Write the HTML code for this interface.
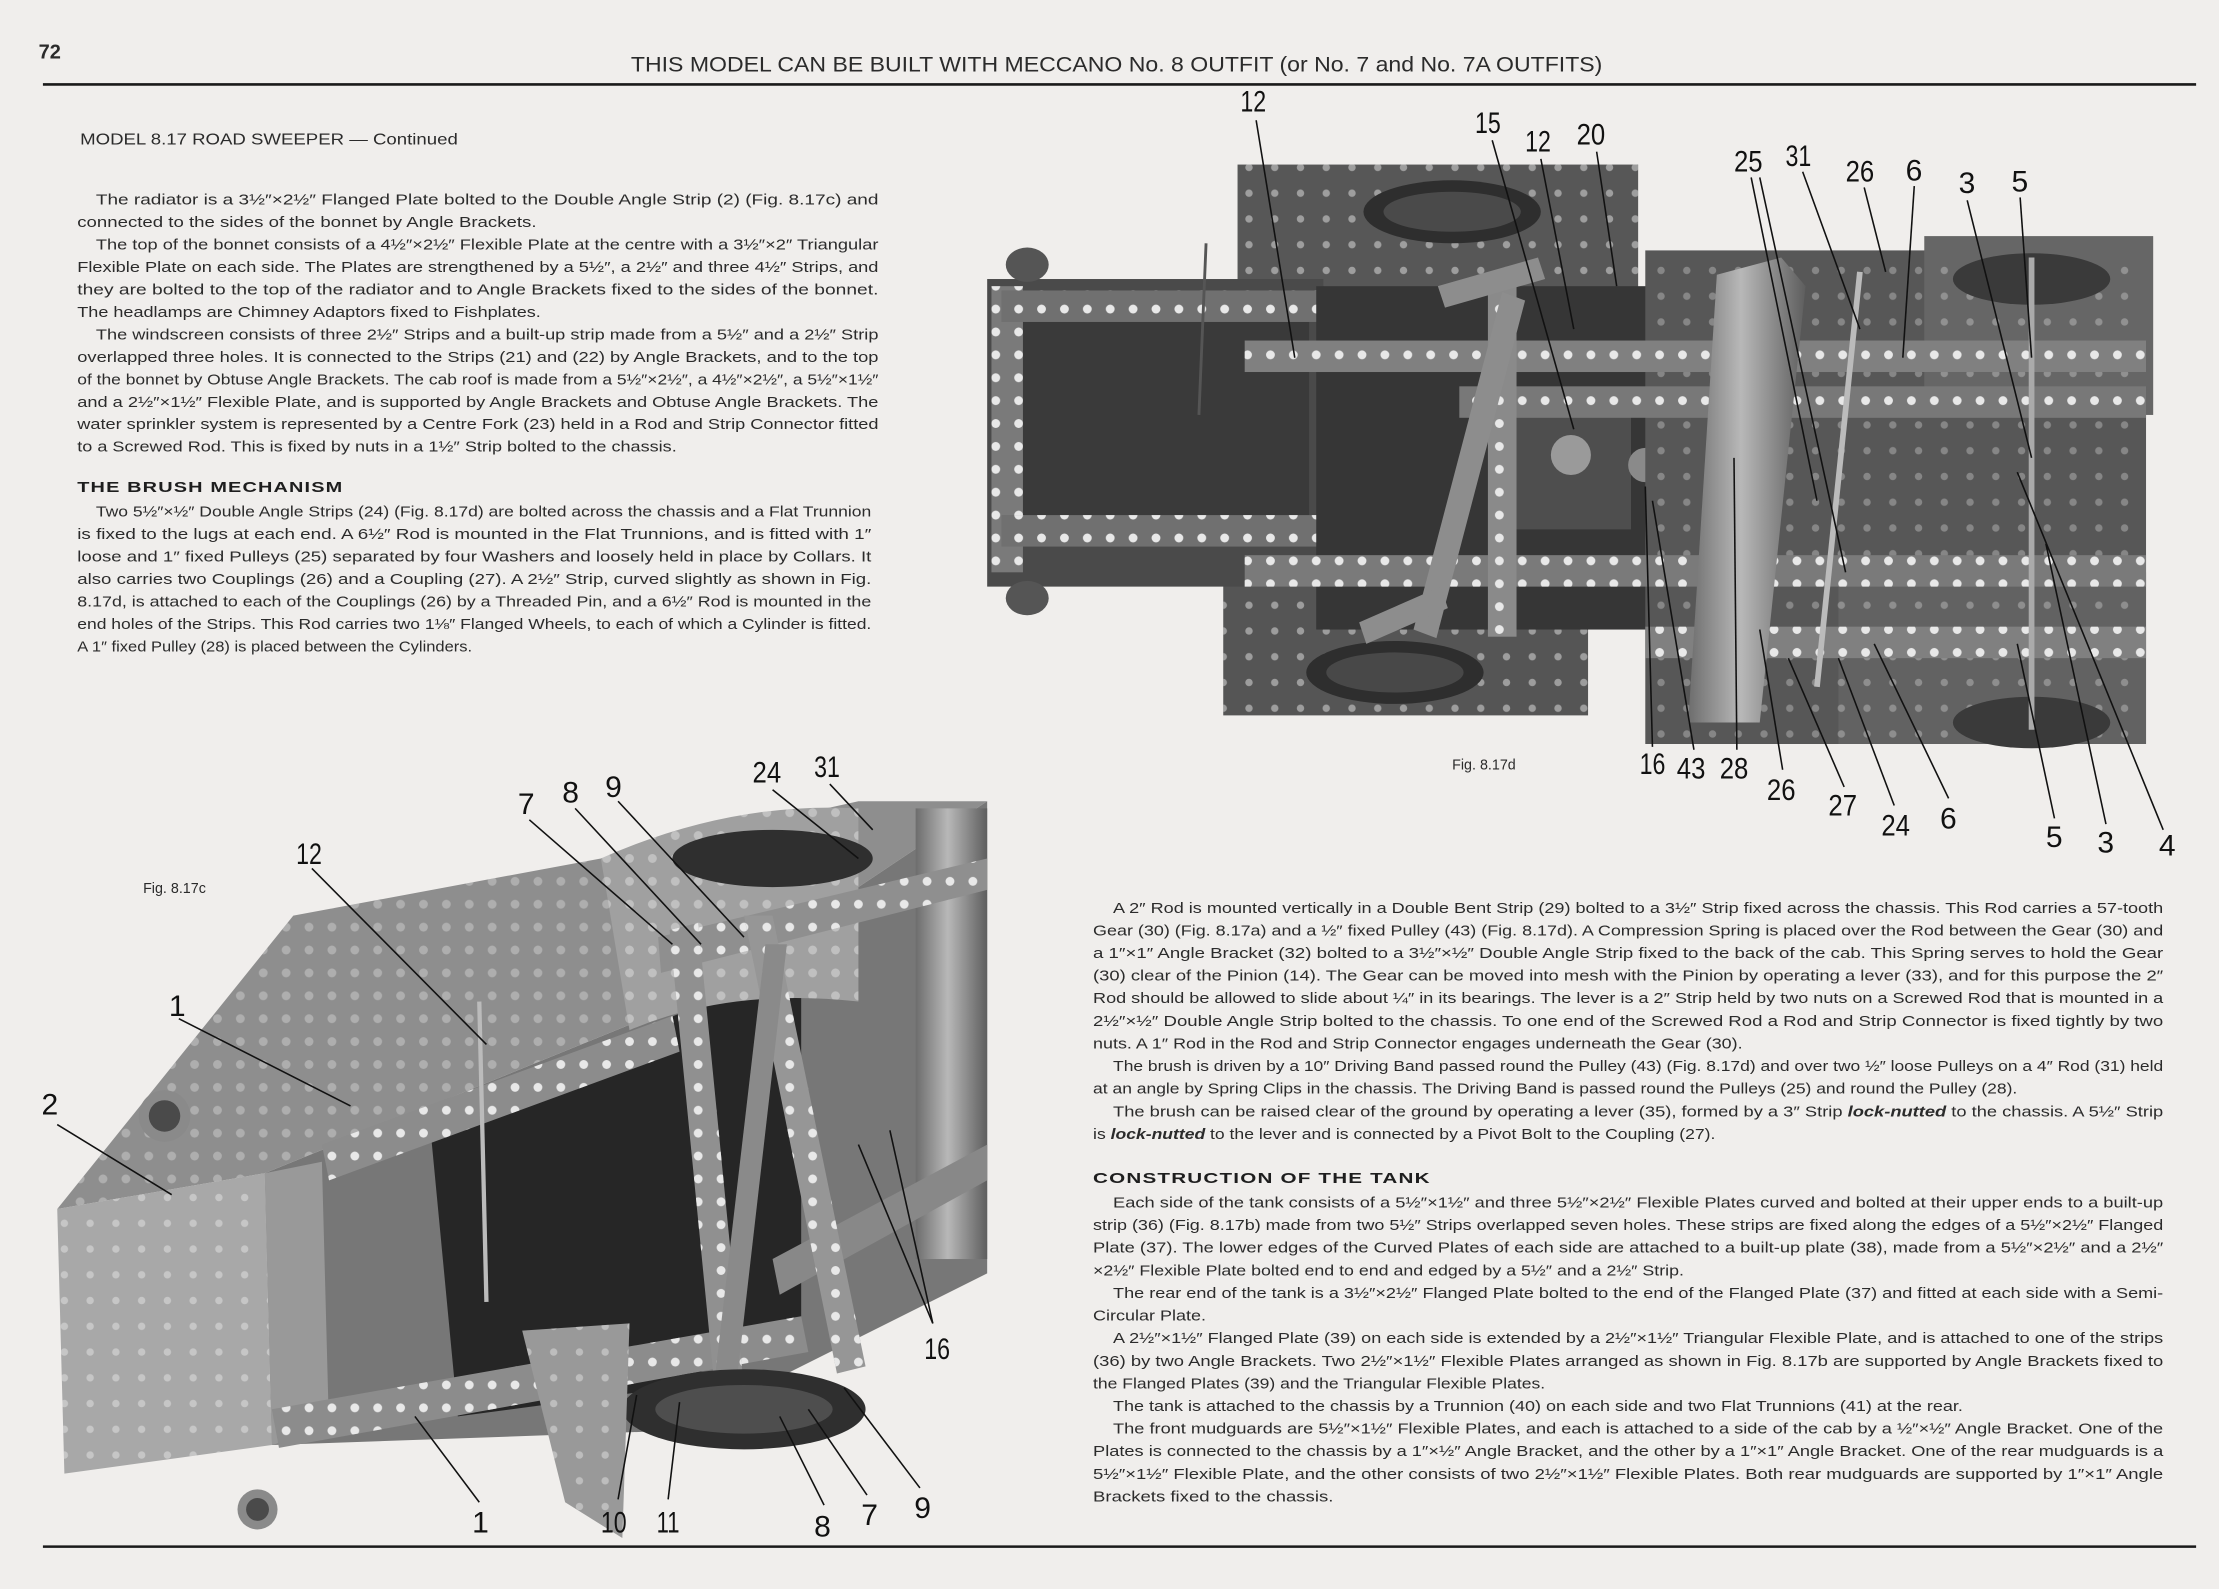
<!DOCTYPE html>
<html><head><meta charset="utf-8"><style>
html,body{margin:0;padding:0;background:#f0eeec;}
svg{display:block}
.t{font-family:"Liberation Sans",sans-serif;font-size:10.4px;fill:#2b2b2b}
.h{font-family:"Liberation Sans",sans-serif;font-weight:bold;font-size:10.5px;fill:#1e1e1e;letter-spacing:0.6px}
.lb{font-family:"Liberation Sans Narrow","Liberation Sans",sans-serif;font-size:21px;fill:#111}
.ld{stroke:#111;stroke-width:1.1;fill:none}
</style></head><body>
<svg width="2219" height="1589" viewBox="0 0 1551 1110.6" xmlns="http://www.w3.org/2000/svg">
<defs>
<pattern id="holes" width="16" height="16" patternUnits="userSpaceOnUse"><circle cx="8" cy="8" r="3.1" fill="#e8e8e8"/></pattern>
<pattern id="holesd" width="18" height="18" patternUnits="userSpaceOnUse"><circle cx="9" cy="9" r="2.6" fill="#f4f4f4"/></pattern>
<linearGradient id="cyl" x1="0" x2="1"><stop offset="0" stop-color="#6d6d6d"/><stop offset=".45" stop-color="#b8b8b8"/><stop offset="1" stop-color="#5e5e5e"/></linearGradient>
</defs>
<rect width="1551" height="1111" fill="#f0eeec"/>
<!-- header -->
<text x="27" y="41" class="t" style="font-size:14px;font-weight:bold">72</text>
<text x="441" y="50" class="t" style="font-size:15px" textLength="679" lengthAdjust="spacingAndGlyphs">THIS MODEL CAN BE BUILT WITH MECCANO No. 8 OUTFIT (or No. 7 and No. 7A OUTFITS)</text>
<line x1="30" y1="59" x2="1535" y2="59" stroke="#1a1a1a" stroke-width="1.8"/>
<line x1="30" y1="1081" x2="1535" y2="1081" stroke="#1a1a1a" stroke-width="1.8"/>
<text x="56" y="101" class="t" style="font-size:11px" textLength="264" lengthAdjust="spacingAndGlyphs">MODEL 8.17  ROAD SWEEPER — Continued</text>

<!-- left text -->
<g class="t">
<text x="67" y="143" textLength="547" lengthAdjust="spacingAndGlyphs">The radiator is a 3½″×2½″ Flanged Plate bolted to the Double Angle Strip (2) (Fig. 8.17c) and</text>
<text x="54" y="158.7" textLength="321" lengthAdjust="spacingAndGlyphs">connected to the sides of the bonnet by Angle Brackets.</text>
<text x="67" y="174.4" textLength="547" lengthAdjust="spacingAndGlyphs">The top of the bonnet consists of a 4½″×2½″ Flexible Plate at the centre with a 3½″×2″ Triangular</text>
<text x="54" y="190.1" textLength="560" lengthAdjust="spacingAndGlyphs">Flexible Plate on each side. The Plates are strengthened by a 5½″, a 2½″ and three 4½″ Strips, and</text>
<text x="54" y="205.8" textLength="560" lengthAdjust="spacingAndGlyphs">they are bolted to the top of the radiator and to Angle Brackets fixed to the sides of the bonnet.</text>
<text x="54" y="221.5" textLength="324" lengthAdjust="spacingAndGlyphs">The headlamps are Chimney Adaptors fixed to Fishplates.</text>
<text x="67" y="237.2" textLength="547" lengthAdjust="spacingAndGlyphs">The windscreen consists of three 2½″ Strips and a built-up strip made from a 5½″ and a 2½″ Strip</text>
<text x="54" y="252.9" textLength="560" lengthAdjust="spacingAndGlyphs">overlapped three holes. It is connected to the Strips (21) and (22) by Angle Brackets, and to the top</text>
<text x="54" y="268.6" textLength="560" lengthAdjust="spacingAndGlyphs">of the bonnet by Obtuse Angle Brackets. The cab roof is made from a 5½″×2½″, a 4½″×2½″, a 5½″×1½″</text>
<text x="54" y="284.3" textLength="560" lengthAdjust="spacingAndGlyphs">and a 2½″×1½″ Flexible Plate, and is supported by Angle Brackets and Obtuse Angle Brackets. The</text>
<text x="54" y="300" textLength="560" lengthAdjust="spacingAndGlyphs">water sprinkler system is represented by a Centre Fork (23) held in a Rod and Strip Connector fitted</text>
<text x="54" y="315.7" textLength="419" lengthAdjust="spacingAndGlyphs">to a Screwed Rod. This is fixed by nuts in a 1½″ Strip bolted to the chassis.</text>
<text x="54" y="344" class="h" textLength="186" lengthAdjust="spacingAndGlyphs">THE BRUSH MECHANISM</text>
<text x="67" y="361" textLength="542" lengthAdjust="spacingAndGlyphs">Two 5½″×½″ Double Angle Strips (24) (Fig. 8.17d) are bolted across the chassis and a Flat Trunnion</text>
<text x="54" y="376.7" textLength="555" lengthAdjust="spacingAndGlyphs">is fixed to the lugs at each end. A 6½″ Rod is mounted in the Flat Trunnions, and is fitted with 1″</text>
<text x="54" y="392.4" textLength="555" lengthAdjust="spacingAndGlyphs">loose and 1″ fixed Pulleys (25) separated by four Washers and loosely held in place by Collars. It</text>
<text x="54" y="408.1" textLength="555" lengthAdjust="spacingAndGlyphs">also carries two Couplings (26) and a Coupling (27). A 2½″ Strip, curved slightly as shown in Fig.</text>
<text x="54" y="423.8" textLength="555" lengthAdjust="spacingAndGlyphs">8.17d, is attached to each of the Couplings (26) by a Threaded Pin, and a 6½″ Rod is mounted in the</text>
<text x="54" y="439.5" textLength="555" lengthAdjust="spacingAndGlyphs">end holes of the Strips. This Rod carries two 1⅛″ Flanged Wheels, to each of which a Cylinder is fitted.</text>
<text x="54" y="455.2" textLength="276" lengthAdjust="spacingAndGlyphs">A 1″ fixed Pulley (28) is placed between the Cylinders.</text>
</g>

<!-- right text -->
<g class="t">
<text x="778" y="638" textLength="734" lengthAdjust="spacingAndGlyphs">A 2″ Rod is mounted vertically in a Double Bent Strip (29) bolted to a 3½″ Strip fixed across the chassis. This Rod carries a 57-tooth</text>
<text x="764" y="653.8" textLength="748" lengthAdjust="spacingAndGlyphs">Gear (30) (Fig. 8.17a) and a ½″ fixed Pulley (43) (Fig. 8.17d). A Compression Spring is placed over the Rod between the Gear (30) and</text>
<text x="764" y="669.6" textLength="748" lengthAdjust="spacingAndGlyphs">a 1″×1″ Angle Bracket (32) bolted to a 3½″×½″ Double Angle Strip fixed to the back of the cab. This Spring serves to hold the Gear</text>
<text x="764" y="685.4" textLength="748" lengthAdjust="spacingAndGlyphs">(30) clear of the Pinion (14). The Gear can be moved into mesh with the Pinion by operating a lever (33), and for this purpose the 2″</text>
<text x="764" y="701.2" textLength="748" lengthAdjust="spacingAndGlyphs">Rod should be allowed to slide about ¼″ in its bearings. The lever is a 2″ Strip held by two nuts on a Screwed Rod that is mounted in a</text>
<text x="764" y="717" textLength="748" lengthAdjust="spacingAndGlyphs">2½″×½″ Double Angle Strip bolted to the chassis. To one end of the Screwed Rod a Rod and Strip Connector is fixed tightly by two</text>
<text x="764" y="732.8" textLength="454" lengthAdjust="spacingAndGlyphs">nuts. A 1″ Rod in the Rod and Strip Connector engages underneath the Gear (30).</text>
<text x="778" y="748.6" textLength="734" lengthAdjust="spacingAndGlyphs">The brush is driven by a 10″ Driving Band passed round the Pulley (43) (Fig. 8.17d) and over two ½″ loose Pulleys on a 4″ Rod (31) held</text>
<text x="764" y="764.4" textLength="646" lengthAdjust="spacingAndGlyphs">at an angle by Spring Clips in the chassis. The Driving Band is passed round the Pulleys (25) and round the Pulley (28).</text>
<text x="778" y="780.2" textLength="734" lengthAdjust="spacingAndGlyphs">The brush can be raised clear of the ground by operating a lever (35), formed by a 3″ Strip <tspan font-weight="bold" font-style="italic">lock-nutted</tspan> to the chassis. A 5½″ Strip</text>
<text x="764" y="796" textLength="435" lengthAdjust="spacingAndGlyphs">is <tspan font-weight="bold" font-style="italic">lock-nutted</tspan> to the lever and is connected by a Pivot Bolt to the Coupling (27).</text>
<text x="764" y="827" class="h" textLength="236" lengthAdjust="spacingAndGlyphs">CONSTRUCTION OF THE TANK</text>
<text x="778" y="844" textLength="734" lengthAdjust="spacingAndGlyphs">Each side of the tank consists of a 5½″×1½″ and three 5½″×2½″ Flexible Plates curved and bolted at their upper ends to a built-up</text>
<text x="764" y="859.8" textLength="748" lengthAdjust="spacingAndGlyphs">strip (36) (Fig. 8.17b) made from two 5½″ Strips overlapped seven holes. These strips are fixed along the edges of a 5½″×2½″ Flanged</text>
<text x="764" y="875.6" textLength="748" lengthAdjust="spacingAndGlyphs">Plate (37). The lower edges of the Curved Plates of each side are attached to a built-up plate (38), made from a 5½″×2½″ and a 2½″</text>
<text x="764" y="891.4" textLength="413" lengthAdjust="spacingAndGlyphs">×2½″ Flexible Plate bolted end to end and edged by a 5½″ and a 2½″ Strip.</text>
<text x="778" y="907.2" textLength="734" lengthAdjust="spacingAndGlyphs">The rear end of the tank is a 3½″×2½″ Flanged Plate bolted to the end of the Flanged Plate (37) and fitted at each side with a Semi-</text>
<text x="764" y="923" textLength="79" lengthAdjust="spacingAndGlyphs">Circular Plate.</text>
<text x="778" y="938.8" textLength="734" lengthAdjust="spacingAndGlyphs">A 2½″×1½″ Flanged Plate (39) on each side is extended by a 2½″×1½″ Triangular Flexible Plate, and is attached to one of the strips</text>
<text x="764" y="954.6" textLength="748" lengthAdjust="spacingAndGlyphs">(36) by two Angle Brackets. Two 2½″×1½″ Flexible Plates arranged as shown in Fig. 8.17b are supported by Angle Brackets fixed to</text>
<text x="764" y="970.4" textLength="316" lengthAdjust="spacingAndGlyphs">the Flanged Plates (39) and the Triangular Flexible Plates.</text>
<text x="778" y="986.2" textLength="594" lengthAdjust="spacingAndGlyphs">The tank is attached to the chassis by a Trunnion (40) on each side and two Flat Trunnions (41) at the rear.</text>
<text x="778" y="1002" textLength="734" lengthAdjust="spacingAndGlyphs">The front mudguards are 5½″×1½″ Flexible Plates, and each is attached to a side of the cab by a ½″×½″ Angle Bracket. One of the</text>
<text x="764" y="1017.8" textLength="748" lengthAdjust="spacingAndGlyphs">Plates is connected to the chassis by a 1″×½″ Angle Bracket, and the other by a 1″×1″ Angle Bracket. One of the rear mudguards is a</text>
<text x="764" y="1033.6" textLength="748" lengthAdjust="spacingAndGlyphs">5½″×1½″ Flexible Plate, and the other consists of two 2½″×1½″ Flexible Plates. Both rear mudguards are supported by 1″×1″ Angle</text>
<text x="764" y="1049.4" textLength="168" lengthAdjust="spacingAndGlyphs">Brackets fixed to the chassis.</text>
</g>

<!-- ===== Fig 8.17d (top) ===== -->
<g>
<rect x="865" y="115" width="280" height="100" fill="#575757"/>
<rect x="865" y="115" width="280" height="100" fill="url(#holesd)" opacity=".45"/>
<ellipse cx="1015" cy="148" rx="62" ry="22" fill="#2e2e2e"/>
<ellipse cx="1015" cy="148" rx="48" ry="14" fill="#4a4a4a"/>
<rect x="855" y="400" width="255" height="100" fill="#555"/>
<rect x="855" y="400" width="255" height="100" fill="url(#holesd)" opacity=".45"/>
<ellipse cx="975" cy="470" rx="62" ry="22" fill="#2e2e2e"/>
<ellipse cx="975" cy="470" rx="48" ry="14" fill="#484848"/>
<rect x="690" y="195" width="235" height="215" fill="#4a4a4a"/>
<rect x="700" y="225" width="215" height="140" fill="#3a3a3a"/>
<rect x="693" y="200" width="22" height="200" fill="#7a7a7a"/>
<rect x="693" y="200" width="22" height="200" fill="url(#holes)"/>
<rect x="700" y="203" width="300" height="22" fill="#707070"/>
<rect x="700" y="203" width="300" height="22" fill="url(#holes)"/>
<rect x="700" y="360" width="300" height="22" fill="#707070"/>
<rect x="700" y="360" width="300" height="22" fill="url(#holes)"/>
<ellipse cx="718" cy="185" rx="15" ry="12" fill="#555"/>
<ellipse cx="718" cy="418" rx="15" ry="12" fill="#555"/>
<rect x="920" y="200" width="240" height="240" fill="#363636"/>
<rect x="1060" y="290" width="80" height="80" fill="#4e4e4e"/>
<circle cx="1098" cy="318" r="14" fill="#9a9a9a"/>
<circle cx="1150" cy="325" r="12" fill="#8a8a8a"/>
<rect x="1150" y="175" width="350" height="345" fill="#575757"/>
<rect x="1345" y="165" width="160" height="125" fill="#666"/>
<rect x="1285" y="400" width="215" height="120" fill="#626262"/>
<rect x="1150" y="175" width="350" height="345" fill="url(#holesd)" opacity=".3"/>
<ellipse cx="1420" cy="195" rx="55" ry="18" fill="#3a3a3a"/>
<ellipse cx="1420" cy="505" rx="55" ry="18" fill="#3a3a3a"/>
<rect x="870" y="238" width="630" height="22" fill="#808080"/>
<rect x="870" y="238" width="630" height="22" fill="url(#holes)"/>
<rect x="1020" y="270" width="480" height="22" fill="#787878"/>
<rect x="1020" y="270" width="480" height="22" fill="url(#holes)"/>
<rect x="870" y="388" width="630" height="22" fill="#7a7a7a"/>
<rect x="870" y="388" width="630" height="22" fill="url(#holes)"/>
<rect x="1150" y="438" width="350" height="22" fill="#808080"/>
<rect x="1150" y="438" width="350" height="22" fill="url(#holes)"/>
<rect x="1040" y="200" width="20" height="245" fill="#8a8a8a"/>
<rect x="1040" y="200" width="20" height="245" fill="url(#holes)"/>
<polygon points="988,440 1004,446 1066,210 1050,204" fill="#8d8d8d"/>
<polygon points="1005,200 1010,215 1080,195 1075,180" fill="#8d8d8d"/>
<polygon points="950,435 955,450 1012,425 1007,410" fill="#8d8d8d"/>
<polygon points="1200,192 1245,180 1262,200 1230,505 1180,505" fill="url(#cyl)"/>
<line x1="1300" y1="190" x2="1270" y2="480" stroke="#bbb" stroke-width="4"/>
<line x1="1420" y1="180" x2="1420" y2="510" stroke="#aaa" stroke-width="4"/>
<line x1="843" y1="170" x2="838" y2="290" stroke="#555" stroke-width="2"/>
</g>
<text x="1015" y="538" class="t" style="font-size:10px">Fig. 8.17d</text>

<g class="lb">
<text x="867" y="78" textLength="18" lengthAdjust="spacingAndGlyphs">12</text><text x="1031" y="93" textLength="18" lengthAdjust="spacingAndGlyphs">15</text><text x="1066" y="106" textLength="18" lengthAdjust="spacingAndGlyphs">12</text><text x="1102" y="101" textLength="20" lengthAdjust="spacingAndGlyphs">20</text>
<text x="1212" y="120" textLength="20" lengthAdjust="spacingAndGlyphs">25</text><text x="1248" y="116" textLength="18" lengthAdjust="spacingAndGlyphs">31</text><text x="1290" y="127" textLength="20" lengthAdjust="spacingAndGlyphs">26</text><text x="1332" y="126">6</text>
<text x="1369" y="135">3</text><text x="1406" y="134">5</text>
<text x="1146" y="541" textLength="18" lengthAdjust="spacingAndGlyphs">16</text><text x="1172" y="544" textLength="20" lengthAdjust="spacingAndGlyphs">43</text><text x="1202" y="544" textLength="20" lengthAdjust="spacingAndGlyphs">28</text><text x="1235" y="559" textLength="20" lengthAdjust="spacingAndGlyphs">26</text>
<text x="1278" y="570" textLength="20" lengthAdjust="spacingAndGlyphs">27</text><text x="1315" y="584" textLength="20" lengthAdjust="spacingAndGlyphs">24</text><text x="1356" y="579">6</text>
<text x="1430" y="592">5</text><text x="1466" y="596">3</text><text x="1509" y="598">4</text>
</g>
<g class="ld">
<path d="M878 84 L905 250"/><path d="M1043 98 L1100 300"/><path d="M1077 111 L1100 230"/><path d="M1116 106 L1130 200"/>
<path d="M1224 124 L1270 350"/><path d="M1230 124 L1290 400"/><path d="M1260 120 L1300 230"/><path d="M1303 131 L1318 190"/>
<path d="M1338 130 L1330 250"/><path d="M1375 140 L1420 320"/><path d="M1412 138 L1420 250"/>
<path d="M1155 522 L1150 340"/><path d="M1184 524 L1155 350"/><path d="M1214 524 L1212 320"/><path d="M1246 538 L1230 440"/>
<path d="M1289 550 L1250 460"/><path d="M1324 563 L1285 460"/><path d="M1362 558 L1310 450"/><path d="M1436 572 L1410 450"/>
<path d="M1472 576 L1430 380"/><path d="M1512 580 L1410 330"/>
</g>

<!-- ===== Fig 8.17c (bottom-left) ===== -->
<g>
<polygon points="185,820 480,700 690,560 690,890 470,1000 190,1010" fill="#777"/>
<polygon points="300,780 520,690 560,680 560,920 470,970 320,990" fill="#262626"/>
<polygon points="205,640 420,600 600,560 690,560 480,700 185,820 40,845" fill="#8e8e8e"/>
<polygon points="205,640 420,600 480,700 185,820 40,845" fill="url(#holes)" opacity=".35"/>
<path d="M420,600 Q510,560 600,565 L600,700 Q510,690 440,720 Z" fill="#a0a0a0"/>
<path d="M420,600 Q510,560 600,565 L600,700 Q510,690 440,720 Z" fill="url(#holes)" opacity=".45"/>
<ellipse cx="540" cy="600" rx="70" ry="20" fill="#2f2f2f"/>
<rect x="640" y="565" width="50" height="315" fill="url(#cyl)"/>
<polygon points="40,845 185,820 190,1010 45,1030" fill="#a8a8a8"/>
<polygon points="40,845 185,820 190,1010 45,1030" fill="url(#holesd)" opacity=".4"/>
<polygon points="185,820 225,812 230,1000 190,1010" fill="#999"/>
<circle cx="115" cy="780" r="18" fill="#8a8a8a"/><circle cx="115" cy="780" r="11" fill="#4a4a4a"/>
<circle cx="180" cy="1055" r="14" fill="#8a8a8a"/><circle cx="180" cy="1055" r="8" fill="#4a4a4a"/>
<polygon points="190,985 560,920 565,945 195,1012" fill="#8c8c8c"/>
<polygon points="190,985 560,920 565,945 195,1012" fill="url(#holes)"/>
<polygon points="225,800 470,710 475,735 230,825" fill="#8c8c8c"/>
<polygon points="225,800 470,710 475,735 230,825" fill="url(#holes)"/>
<polygon points="460,655 690,600 690,622 462,680" fill="#8f8f8f"/>
<polygon points="460,655 690,600 690,622 462,680" fill="url(#holes)"/>
<polygon points="540,880 690,800 690,825 545,905" fill="#888"/>
<polygon points="468,650 488,645 520,970 500,975" fill="#909090"/>
<polygon points="468,650 488,645 520,970 500,975" fill="url(#holes)"/>
<polygon points="520,640 540,640 605,955 585,960" fill="#969696"/>
<polygon points="520,640 540,640 605,955 585,960" fill="url(#holes)"/>
<polygon points="535,660 550,660 515,965 500,960" fill="#8a8a8a"/>
<line x1="335" y1="700" x2="340" y2="910" stroke="#bbb" stroke-width="3"/>
<ellipse cx="520" cy="985" rx="85" ry="28" fill="#2f2f2f"/>
<ellipse cx="520" cy="985" rx="62" ry="17" fill="#4e4e4e"/>
<polygon points="365,930 440,925 435,1075 395,1050" fill="#999"/>
<polygon points="365,930 440,925 435,1075 395,1050" fill="url(#holesd)" opacity=".4"/>
</g>
<text x="100" y="624" class="t" style="font-size:10px">Fig. 8.17c</text>
<g class="lb">
<text x="207" y="604" textLength="18" lengthAdjust="spacingAndGlyphs">12</text><text x="362" y="569">7</text><text x="393" y="561">8</text><text x="423" y="557">9</text>
<text x="526" y="547" textLength="20" lengthAdjust="spacingAndGlyphs">24</text><text x="569" y="543" textLength="18" lengthAdjust="spacingAndGlyphs">31</text><text x="118" y="710">1</text><text x="29" y="779">2</text>
<text x="646" y="950" textLength="18" lengthAdjust="spacingAndGlyphs">16</text><text x="330" y="1071">1</text><text x="420" y="1071" textLength="18" lengthAdjust="spacingAndGlyphs">10</text><text x="459" y="1071" textLength="16" lengthAdjust="spacingAndGlyphs">11</text>
<text x="569" y="1074">8</text><text x="602" y="1066">7</text><text x="639" y="1061">9</text>
</g>
<g class="ld">
<path d="M218 607 L340 730"/><path d="M370 573 L470 660"/><path d="M402 565 L490 660"/><path d="M432 560 L520 655"/>
<path d="M540 552 L600 600"/><path d="M580 548 L610 580"/><path d="M125 712 L245 773"/><path d="M40 786 L120 835"/>
<path d="M652 925 L600 800"/><path d="M652 925 L622 790"/><path d="M335 1050 L290 990"/><path d="M432 1048 L445 975"/>
<path d="M467 1048 L475 980"/><path d="M576 1052 L545 990"/><path d="M606 1045 L565 985"/><path d="M643 1040 L590 970"/>
</g>
</svg>
</body></html>
